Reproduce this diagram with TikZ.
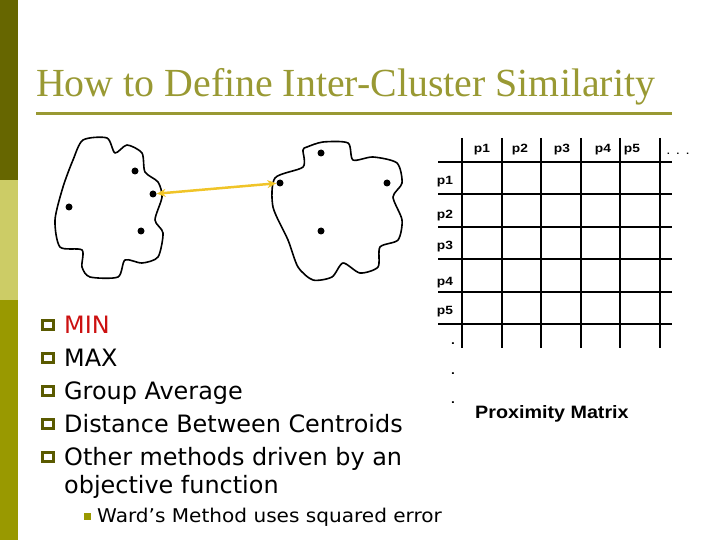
\documentclass[tikz,border=0pt]{standalone}
\usepackage{fontspec}
\setmainfont{Liberation Serif}
\newfontfamily\vfont{DejaVu Sans}
\newfontfamily\afont{Liberation Sans}
\usepackage{tikz}
\usetikzlibrary{positioning}
\usetikzlibrary{arrows.meta}
\definecolor{oldark}{RGB}{102,102,0}
\definecolor{olbullet}{RGB}{90,90,0}
\definecolor{ollight}{RGB}{204,204,102}
\definecolor{olmid}{RGB}{153,153,0}
\definecolor{oltitle}{RGB}{153,153,51}
\definecolor{minred}{RGB}{204,17,17}
\definecolor{linkyel}{RGB}{240,196,40}
\tikzstyle{pt}=[circle, fill=black, inner sep=0pt, minimum size=7bp]
\tikzstyle{blob}=[line width=1.6bp, line join=round]
\tikzstyle{gln}=[line width=2bp]
\tikzstyle{lbl}=[inner sep=0pt, xscale=1.15, font=\afont\bfseries\fontsize{12}{14}\selectfont]
\tikzstyle{itm}=[anchor=base west, inner sep=0pt, font=\vfont\fontsize{24}{28}\selectfont]
\tikzstyle{sub}=[anchor=base west, inner sep=0pt, xscale=1.06, font=\vfont\fontsize{19}{22}\selectfont]
\tikzstyle{bx}=[draw=olbullet, line width=2.3bp, minimum width=11bp, minimum height=9bp, inner sep=0pt]
\def\cMin{{\color{minred}MIN}}

\begin{document}
\begin{tikzpicture}[x=1bp, y=-1bp]
    %\draw [help lines, step=20] (0,0) grid (720,540);
    \useasboundingbox (0,0) rectangle (720,540);
    \fill [oldark]  (0,0)   rectangle (18,180);
    \fill [ollight] (0,180) rectangle (18,300);
    \fill [olmid]   (0,300) rectangle (18,540);

    \node [anchor=base west, inner sep=0pt, text=oltitle, font=\fontsize{40}{44}\selectfont] (T) at (36,97) {How to Define Inter-Cluster Similarity};
    \draw [oltitle, line width=3bp] (36,114) -- (672,114);

    % the two clusters
    \draw [blob] plot [smooth cycle, tension=0.45] coordinates {(83,140) (107,138) (115,153) (127,145) (142,153) (145,172) (158,182) (162,197) (155,220) (163,233) (158,257) (142,263) (125,260) (118,277) (90,277) (82,267) (82,250) (60,247) (55,220) (63,187) (73,160)};
    \draw [blob] plot [smooth cycle, tension=0.45] coordinates {(307,147) (323,142) (348,143) (353,160) (373,157) (397,163) (402,183) (393,197) (402,220) (398,240) (380,247) (378,267) (360,273) (343,263) (332,277) (313,280) (298,267) (288,240) (273,207) (275,178) (303,167) (303,150)};

    \node [pt] (A1) at (135,171) {};
    \node [pt] (A2) at (153,194) {};
    \node [pt] (A3) at (69,207)  {};
    \node [pt] (A4) at (141,231) {};
    \node [pt] (B1) at (280,183) {};
    \node [pt] (B2) at (321,153) {};
    \node [pt] (B3) at (387,183) {};
    \node [pt] (B4) at (321,231) {};

    \draw [{Stealth[length=9bp,width=8bp]}-{Stealth[length=9bp,width=8bp]}, linkyel, line width=2.5bp] (A2) -- (B1);

    % proximity matrix
    \draw [gln] (438,162) -- (672,162) (438,194) -- (672,194) (438,227) -- (672,227)
                (438,259) -- (672,259) (438,292) -- (672,292) (438,324) -- (672,324);
    \draw [gln] (462,138) -- (462,348) (502,138) -- (502,348) (541,138) -- (541,348)
                (581,138) -- (581,348) (620,138) -- (620,348) (660,138) -- (660,348);

    \node [lbl] (c1) at (482,150) {p1};
    \node [lbl] (c2) at (520,150) {p2};
    \node [lbl] (c3) at (562,150) {p3};
    \node [lbl] (c4) at (603,150) {p4};
    \node [lbl] (c5) at (632,150) {p5};
    \node [lbl, font=\afont\fontsize{13}{15}\selectfont] (cd) at (678,154) {. . .};
    \node [lbl] (r1) at (445,182) {p1};
    \node [lbl] (r2) at (445,216) {p2};
    \node [lbl] (r3) at (445,247) {p3};
    \node [lbl] (r4) at (445,283) {p4};
    \node [lbl] (r5) at (445,312) {p5};
    \node [lbl] (d1) at (453,344) {.};
    \node [lbl] (d2) at (453,374) {.};
    \node [lbl] (d3) at (453,403) {.};
    \node [anchor=base west, inner sep=0pt, xscale=1.1, font=\afont\bfseries\fontsize{18}{21}\selectfont] (M) at (475,418) {Proximity Matrix};

    % methods
    \node [itm] (m1) at (64,333) {\cMin};
    \node [itm] (m2) at (64,366) {MAX};
    \node [itm] (m3) at (64,399) {Group Average};
    \node [itm] (m4) at (64,432) {Distance Between Centroids};
    \node [itm] (m5) at (64,465) {Other methods driven by an};
    \node [itm] (m6) at (64,493) {objective function};
    \node [sub] (w)  at (97,522) {Ward’s Method uses squared error};
    \node [bx] at (48,325) {};
    \node [bx] at (48,358) {};
    \node [bx] at (48,391) {};
    \node [bx] at (48,424) {};
    \node [bx] at (48,457) {};
    \node [fill=olmid, minimum size=7bp, inner sep=0pt] at (87,516) {};
\end{tikzpicture}
\end{document}
